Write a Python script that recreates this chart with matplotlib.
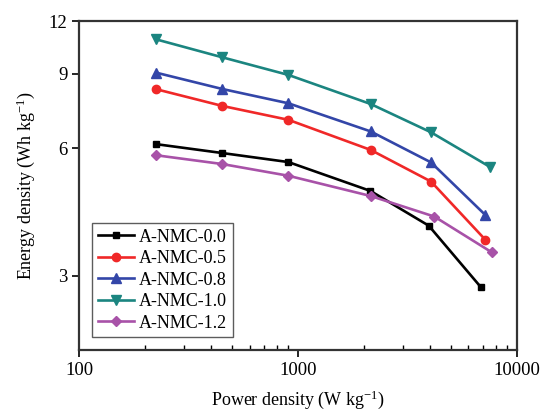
import numpy as np
import matplotlib
matplotlib.use('Agg')
import matplotlib.pyplot as plt
from matplotlib.ticker import FixedLocator, NullFormatter, NullLocator, LogLocator

plt.rcParams['font.family'] = ['Liberation Serif', 'DejaVu Serif']
plt.rcParams['mathtext.default'] = 'regular'

# data
labels = ['A-NMC-0.0', 'A-NMC-0.5', 'A-NMC-0.8', 'A-NMC-1.0', 'A-NMC-1.2']
power_00 = [225, 451, 903, 2140, 3950, 6830]
power_05 = [225, 451, 903, 2146, 4045, 7160]
power_08 = [225, 451, 903, 2146, 4045, 7150]
power_10 = [225, 451, 903, 2146, 4045, 7540]
power_12 = [225, 451, 903, 2146, 4190, 7650]
energy_00 = [6.14, 5.85, 5.57, 4.76, 3.94, 2.82]
energy_05 = [8.28, 7.56, 7.01, 5.95, 5.01, 3.65]
energy_08 = [9.06, 8.29, 7.67, 6.58, 5.56, 4.18]
energy_10 = [10.86, 9.85, 8.95, 7.64, 6.55, 5.42]
energy_12 = [5.78, 5.51, 5.17, 4.63, 4.14, 3.41]

powers = [power_00, power_05, power_08, power_10, power_12]
energies = [energy_00, energy_05, energy_08, energy_10, energy_12]
colors = ['#000000', '#F02828', '#3346A8', '#1B8580', '#A852A8']
markers = ['s', 'o', '^', 'v', 'D']
msizes = [5, 6, 6.5, 6.5, 5]

fig = plt.figure(figsize=(5.42, 4.13), dpi=100)
ax = fig.add_axes([0.146, 0.152, 0.808, 0.797])

for p, e, c, m, ms, lab in zip(powers, energies, colors, markers, msizes, labels):
    ax.plot(p, e, color=c, marker=m, markersize=ms, linewidth=1.9, label=lab)

ax.set_xscale('log')
ax.set_yscale('log')
ax.set_xlim(100, 10000)
ax.set_ylim(2.0, 12)

ax.xaxis.set_major_locator(FixedLocator([100, 1000, 10000]))
ax.xaxis.set_major_formatter(plt.FuncFormatter(lambda v, pos: f'{int(v)}'))
ax.xaxis.set_minor_locator(LogLocator(base=10, subs=np.arange(2, 10)))
ax.xaxis.set_minor_formatter(NullFormatter())
ax.yaxis.set_major_locator(FixedLocator([3, 6, 9, 12]))
ax.yaxis.set_major_formatter(plt.FuncFormatter(lambda v, pos: f'{int(v)}'))
ax.yaxis.set_minor_locator(NullLocator())

ax.tick_params(axis='both', which='major', direction='out', length=5, width=1.2,
               labelsize=13.5, top=False, right=False)
ax.tick_params(axis='x', which='minor', direction='in', length=3.5, width=1.0, top=False)

for s in ax.spines.values():
    s.set_linewidth(1.6)
    s.set_color('#333333')

ax.set_xlabel('Power density (W kg$^{-1}$)', fontsize=13, labelpad=7)
ax.set_ylabel('Energy density (Wh kg$^{-1}$)', fontsize=13, labelpad=8)

leg = ax.legend(loc='lower left', bbox_to_anchor=(0.03, 0.04), fontsize=13,
                frameon=True, fancybox=False, edgecolor='#333333',
                handlelength=2.0, handletextpad=0.3, borderpad=0.3,
                labelspacing=0.25, borderaxespad=0)
leg.get_frame().set_linewidth(1.0)

fig.savefig('out.png', dpi=100)
